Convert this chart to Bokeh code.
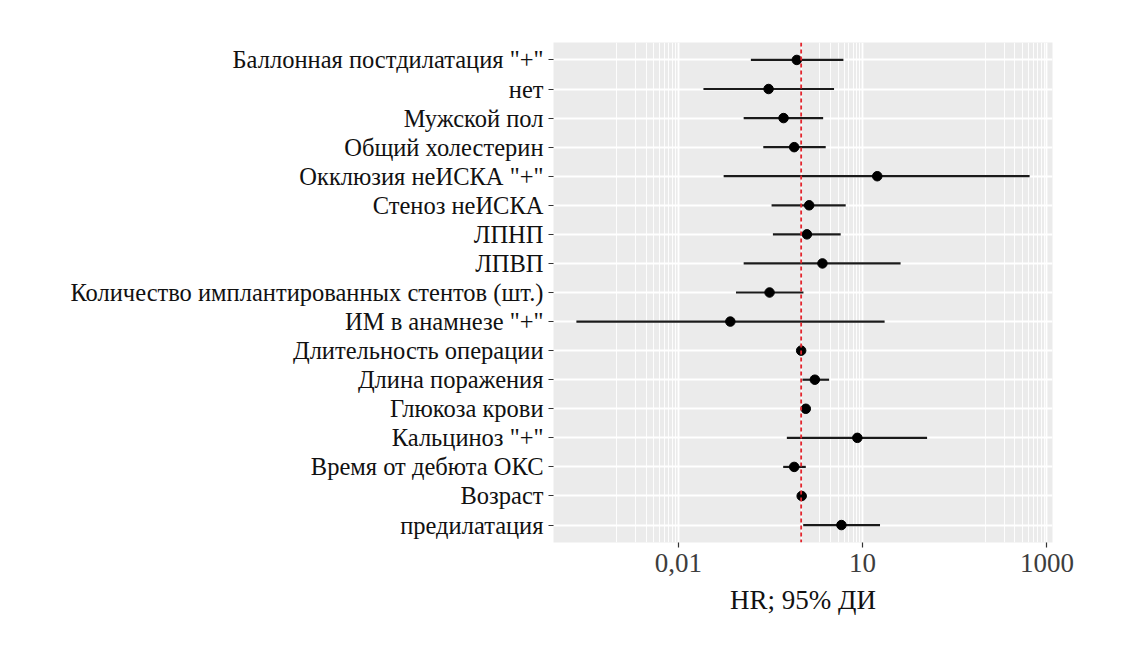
from bokeh.plotting import figure
from bokeh.models import Range1d, FixedTicker, Span, ColumnDataSource
from bokeh.embed import file_html
from bokeh.resources import INLINE

# Factors, top to bottom
labels = [
    'Баллонная постдилатация "+"',
    'нет',
    'Мужской пол',
    'Общий холестерин',
    'Окклюзия неИСКА "+"',
    'Стеноз неИСКА',
    'ЛПНП',
    'ЛПВП',
    'Количество имплантированных стентов (шт.)',
    'ИМ в анамнезе "+"',
    'Длительность операции',
    'Длина поражения',
    'Глюкоза крови',
    'Кальциноз "+"',
    'Время от дебюта ОКС',
    'Возраст',
    'предилатация',
]
hr = [0.85, 0.295, 0.517, 0.77, 17.3, 1.35, 1.24, 2.22, 0.306, 0.0704,
      1.0, 1.67, 1.19, 8.2, 0.77, 1.02, 4.52]
ci_low = [0.152, 0.0257, 0.116, 0.242, 0.0548, 0.33, 0.347, 0.116, 0.087, 0.00022,
          0.99, 1.05, 1.1, 0.585, 0.51, 1.0, 1.08]
ci_high = [4.87, 3.43, 2.28, 2.51, 5220, 5.31, 4.4, 41.5, 1.09, 22.8,
           1.01, 2.85, 1.3, 112, 1.19, 1.04, 19.2]

x_ticks = [0.01, 10, 10000]
x_tick_labels = ["0,01", "10", "1000"]
x_minor = [m * 10.0 ** e for e in (-3, 0, 3) for m in range(1, 10)]

n = len(labels)
ypos = [n - i for i in range(n)]

src = ColumnDataSource(dict(y=ypos, hr=hr, lo=ci_low, hi=ci_high))

W, H = 1120, 640
p = figure(width=W, height=H, x_axis_type="log",
           x_range=Range1d(10 ** -4.03, 10 ** 4.09),
           y_range=Range1d(0.4, n + 0.6),
           output_backend="svg", toolbar_location=None,
           min_border_left=553, min_border_right=68,
           min_border_top=42, min_border_bottom=98)

p.background_fill_color = "#EBEBEB"
p.border_fill_color = "white"
p.outline_line_color = None

p.xaxis.ticker = FixedTicker(ticks=x_ticks, minor_ticks=x_minor)
p.xaxis.major_label_overrides = {t: l for t, l in zip(x_ticks, x_tick_labels)}
p.yaxis.ticker = FixedTicker(ticks=ypos)
p.yaxis.major_label_overrides = {y: l for y, l in zip(ypos, labels)}

for ax in (p.xaxis, p.yaxis):
    ax.axis_line_color = None
    ax.major_tick_line_color = "#333333"
    ax.major_tick_line_width = 1.2
    ax.major_tick_out = 5
    ax.major_tick_in = 0
    ax.minor_tick_line_color = None
    ax.major_label_text_font = "Liberation Serif"

p.yaxis.major_label_text_font_size = "24.5px"
p.yaxis.major_label_text_color = "#111111"
p.yaxis.major_label_standoff = 5
p.xaxis.major_label_text_font_size = "27px"
p.xaxis.major_label_text_color = "#3d3d3d"
p.xaxis.major_label_standoff = 6

p.xaxis.axis_label = "HR; 95% ДИ"
p.xaxis.axis_label_text_font = "Liberation Serif"
p.xaxis.axis_label_text_font_style = "normal"
p.xaxis.axis_label_text_font_size = "27px"
p.xaxis.axis_label_text_color = "#111111"
p.xaxis.axis_label_standoff = 10

p.xgrid.grid_line_color = "white"
p.xgrid.grid_line_width = 1.8
p.xgrid.minor_grid_line_color = "white"
p.xgrid.minor_grid_line_width = 0.9
p.ygrid.grid_line_color = "white"
p.ygrid.grid_line_width = 1.8

p.segment(x0="lo", x1="hi", y0="y", y1="y", source=src,
          line_color="#1a1a1a", line_width=2.2)
p.scatter(x="hr", y="y", source=src, size=9.5,
          fill_color="black", line_color="black")

p.add_layout(Span(location=1, dimension="height", line_color="#E3262E",
                  line_dash="4 3", line_width=1.8))

open("out.html", "w").write(file_html(p, INLINE))
